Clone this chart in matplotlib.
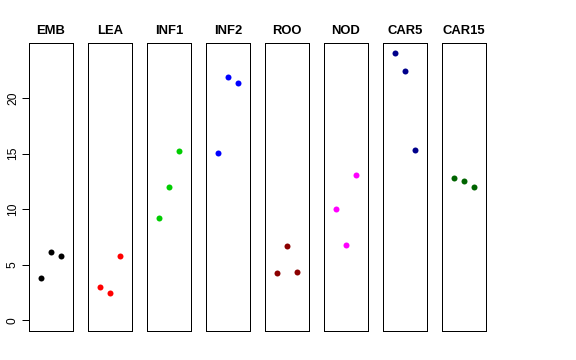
import matplotlib
matplotlib.use("Agg")
import matplotlib.pyplot as plt

plt.rcParams['font.family'] = ['Liberation Sans', 'DejaVu Sans']

# data
groups = ["EMB", "LEA", "INF1", "INF2", "ROO", "NOD", "CAR5", "CAR15"]
colors = ["black", "red", "#00CD00", "blue", "#8B0000", "magenta", "#00008B", "#006400"]
emb = [3.79, 6.14, 5.83]
lea = [3.03, 2.46, 5.78]
inf1 = [9.23, 12.03, 15.28]
inf2 = [15.04, 21.93, 21.39]
roo = [4.30, 6.71, 4.39]
nod = [10.02, 6.77, 13.05]
car5 = [24.06, 22.41, 15.37]
car15 = [12.82, 12.51, 12.00]
values = [emb, lea, inf1, inf2, roo, nod, car5, car15]
reps = [1, 2, 3]
yticks = [0, 5, 10, 15, 20]

W, H = 576, 360
fig = plt.figure(figsize=(W / 72, H / 72), dpi=72)

for i, (name, col, vals) in enumerate(zip(groups, colors, values)):
    left = 29 + i * 59
    ax = fig.add_axes([left / W, 1 - 331 / H, 44 / W, 288 / H])
    ax.plot(reps, vals, "o", color=col, markersize=6, markeredgewidth=0)
    ax.set_xlim(-0.16, 4.16)
    ax.set_ylim(-0.96, 24.96)
    ax.set_title(name, fontsize=13, fontweight="bold", pad=9)
    ax.set_xticks([])
    for s in ax.spines.values():
        s.set_linewidth(1)
    if i == 0:
        ax.set_yticks(yticks)
        ax.set_yticklabels([str(t) for t in yticks], rotation=90, va="center", fontsize=12)
        ax.tick_params(axis="y", length=7, width=1, pad=3)
    else:
        ax.set_yticks([])

fig.savefig("out.png", dpi=72)
